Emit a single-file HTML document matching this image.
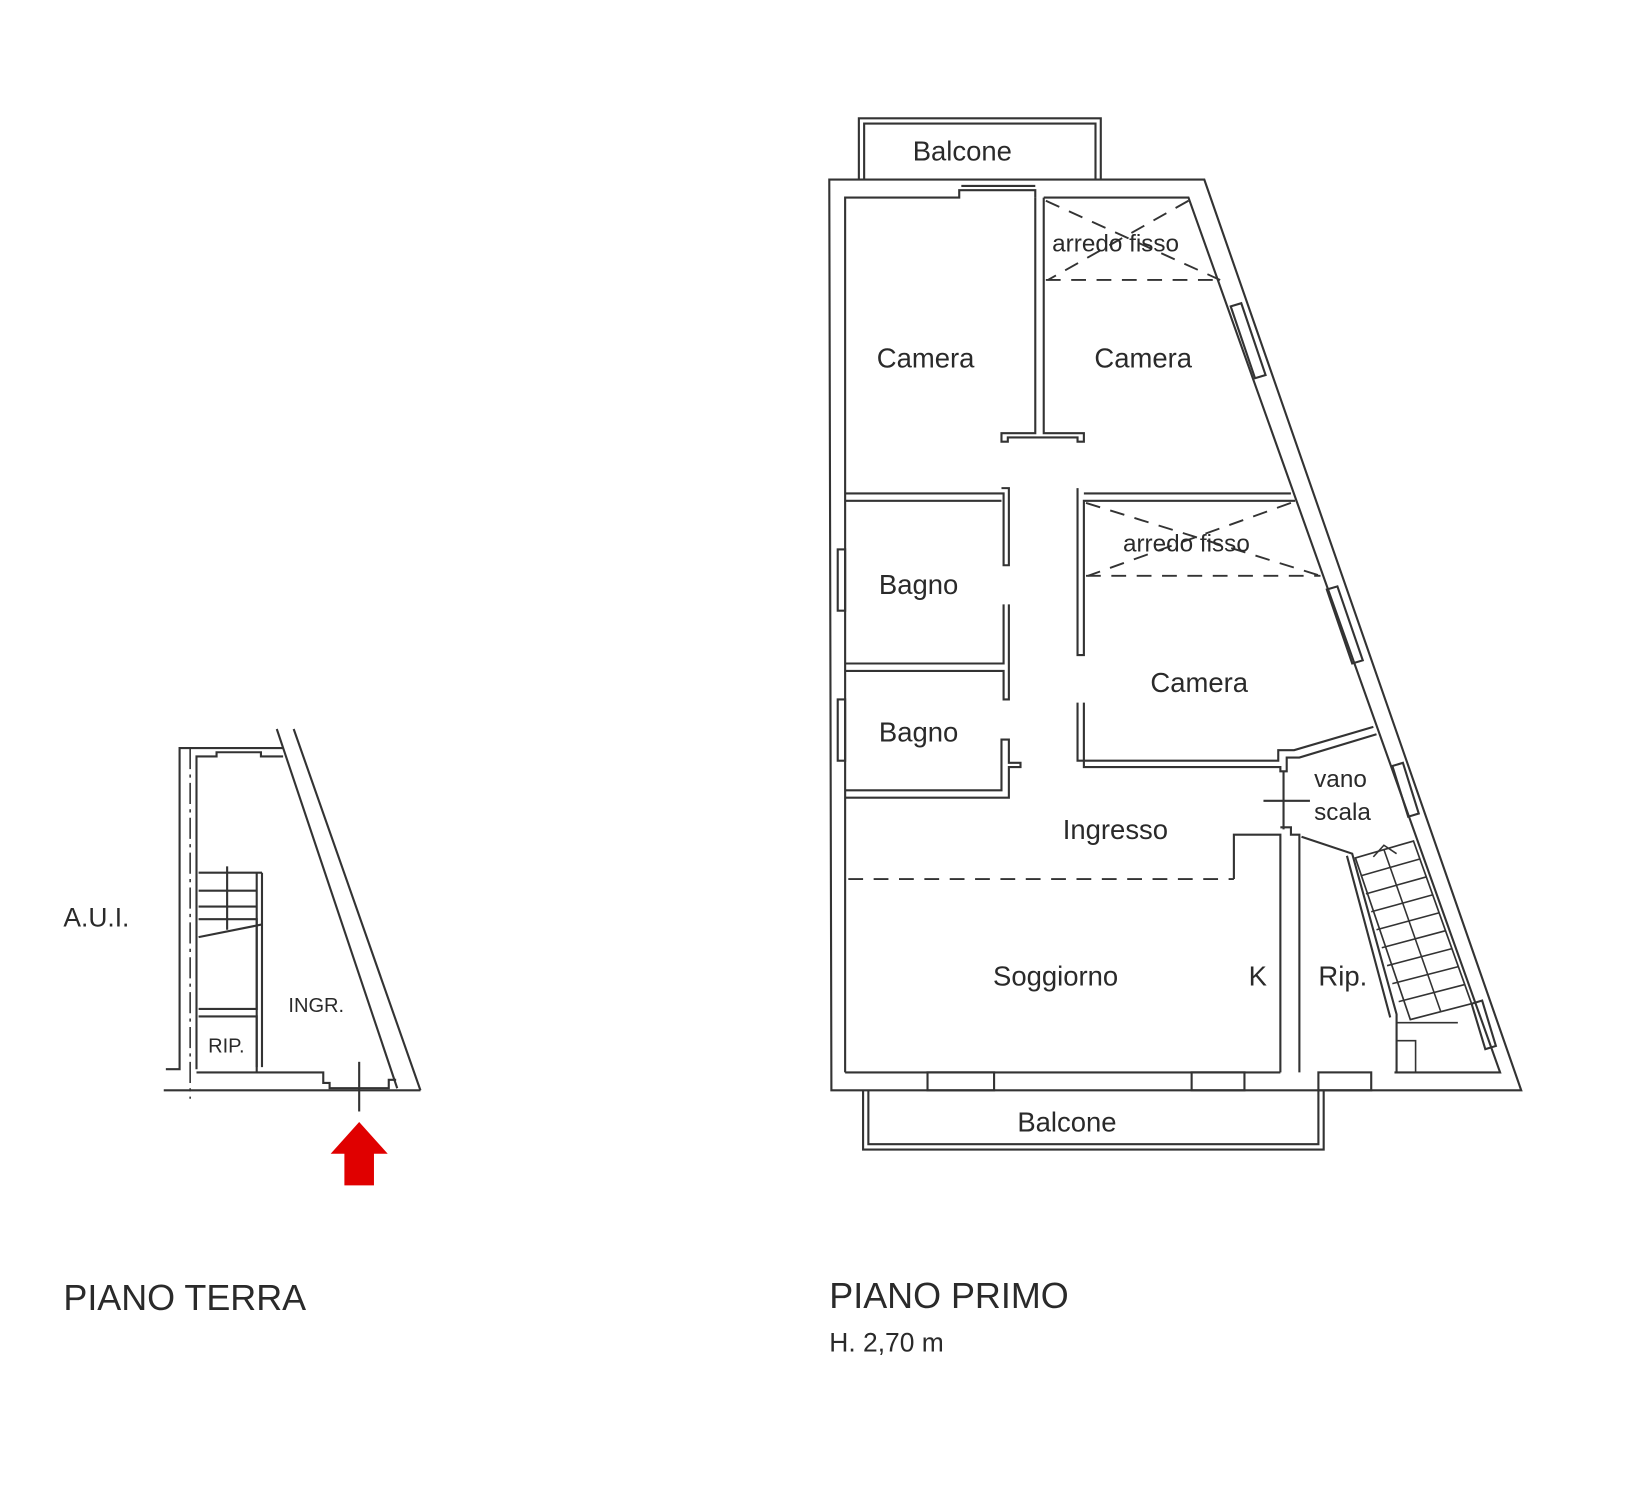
<!DOCTYPE html>
<html><head><meta charset="utf-8"><style>
html,body{margin:0;padding:0;background:#fff;}
svg{display:block;}
text{font-family:"Liberation Sans",sans-serif;fill:#2a2a2a;}
</style></head><body>
<svg width="1648" height="1495" viewBox="0 0 1560 1415" preserveAspectRatio="none" xmlns="http://www.w3.org/2000/svg">
<g fill="none" stroke="#333" stroke-width="2">
<polyline points="813,170 813,112 1042,112 1042,170"/>
<polyline points="818,170 818,117 1037,117 1037,170"/>
<polygon points="785,170 1140,170 1440,1032 787,1032"/>
<polyline points="800,1015 800,187 908,187 908,180 980,180 980,187"/>
<polyline points="988,187 1125,187 1420,1015 1320,1015"/>
<line x1="1212" y1="1015" x2="800" y2="1015"/>
<line x1="910" y1="176" x2="980" y2="176"/>
<polyline points="817,1032 817,1088 1253,1088 1253,1032"/>
<polyline points="822,1032 822,1083 1248,1083 1248,1032"/>
<rect x="878" y="1015" width="63" height="17"/>
<rect x="1128" y="1015" width="50" height="17"/>
<rect x="1248" y="1015" width="50" height="17"/>
<rect x="793" y="520" width="7" height="58"/>
<rect x="793" y="662" width="7" height="58"/>
<polygon points="1165,290 1175,287 1198,355 1188,358"/>
<polygon points="1256,558 1266,555 1290,625 1280,628"/>
<polygon points="1318,725 1328,722 1343,770 1333,773"/>
<polygon points="1393,950 1403,947 1416,990 1406,993"/>
<polyline points="980,187 980,410 948,410 948,418 954,418 954,414 1020,414 1020,418 1026,418 1026,410 988,410 988,187"/>
<polyline points="800,467 950,467 950,535 955,535 955,462 948,462"/>
<polyline points="800,474 948,474"/>
<polyline points="950,572 950,628 800,628"/>
<polyline points="955,572 955,662 950,662 950,635 800,635"/>
<polyline points="800,748 948,748 948,700 955,700 955,722 966,722 966,726 955,726 955,755 800,755"/>
<polyline points="1020,462 1020,620 1026,620 1026,474 1226,474"/>
<line x1="1026" y1="467" x2="1222" y2="467"/>
<polyline points="1020,665 1020,720 1210,720 1210,710 1225,710 1300,688"/>
<polyline points="1026,665 1026,713 1026,726 1212,726 1212,730 1218,730 1218,717 1230,717 1303,695"/>
<line x1="1215" y1="730" x2="1215" y2="785"/>
<line x1="1196" y1="758" x2="1240" y2="758"/>
<polyline points="1168,832 1168,790 1212,790 1212,1015"/>
<polyline points="1212,783 1222,783 1222,790 1230,790 1230,1015"/>
<polyline points="1232,792 1280,808 1322,960 1322,1015"/>
<polyline points="1275,810 1316,963"/>
<polygon points="1283,812 1338,796 1393,950 1335,965" stroke-width="1.6"/>
<g stroke-width="1.5">
<line x1="1288" y1="829" x2="1344" y2="813"/>
<line x1="1293" y1="846" x2="1350" y2="830"/>
<line x1="1298" y1="863" x2="1356" y2="847"/>
<line x1="1303" y1="880" x2="1362" y2="864"/>
<line x1="1308" y1="897" x2="1368" y2="881"/>
<line x1="1313" y1="914" x2="1374" y2="898"/>
<line x1="1318" y1="931" x2="1380" y2="915"/>
<line x1="1324" y1="948" x2="1386" y2="932"/>
<line x1="1310" y1="804" x2="1364" y2="958"/>
<polyline points="1300,811 1310,800 1322,808"/>
<polyline points="1322,985 1340,985 1340,1015"/>
<line x1="1322" y1="968" x2="1380" y2="968"/>
</g>
<g stroke-dasharray="14,10" stroke-width="1.8">
<line x1="990" y1="265" x2="1155" y2="265"/>
<line x1="990" y1="190" x2="1155" y2="265"/>
<line x1="1125" y1="190" x2="992" y2="265"/>
<line x1="1028" y1="545" x2="1250" y2="545"/>
<line x1="1028" y1="476" x2="1250" y2="545"/>
<line x1="1222" y1="476" x2="1030" y2="545"/>
<line x1="803" y1="832" x2="1168" y2="832"/>
</g>

<!-- PIANO TERRA -->
<line x1="278" y1="690" x2="398" y2="1032"/>
<line x1="262" y1="690" x2="376" y2="1030"/>
<polyline points="157,1012 170,1012 170,708 268,708"/>
<polyline points="186,1012 186,716 205,716 205,712 247,712 247,716 268,716"/>
<line x1="180" y1="708" x2="180" y2="1040" stroke-dasharray="20,5,3,5" stroke-width="1.5"/>
<line x1="155" y1="1032" x2="398" y2="1032"/>
<polyline points="186,1015 306,1015 306,1025 312,1025 312,1030 368,1030 368,1022 375,1022"/>
<line x1="340" y1="1005" x2="340" y2="1052"/>
<polyline points="188,870 243,870 243,955 188,955"/>
<line x1="243" y1="826" x2="243" y2="1010"/>
<line x1="248" y1="826" x2="248" y2="1010"/>
<line x1="188" y1="826" x2="248" y2="826"/>
<line x1="188" y1="843" x2="243" y2="843"/>
<line x1="188" y1="858" x2="243" y2="858"/>
<line x1="188" y1="887" x2="248" y2="875"/>
<line x1="215" y1="820" x2="215" y2="880"/>
<polyline points="188,962 243,962 243,1015"/>
</g>
<polygon points="340,1062 367,1092 354,1092 354,1122 326,1122 326,1092 313,1092" fill="#e00000"/>

<g font-size="26">
<text x="864" y="152">Balcone</text>
<text x="963" y="1071">Balcone</text>
<text x="830" y="348">Camera</text>
<text x="1036" y="348">Camera</text>
<text x="1089" y="655">Camera</text>
<text x="832" y="562">Bagno</text>
<text x="832" y="702">Bagno</text>
<text x="1006" y="794">Ingresso</text>
<text x="940" y="933">Soggiorno</text>
<text x="1182" y="933">K</text>
<text x="1248" y="933">Rip.</text>
<text x="1244" y="745" font-size="23">vano</text>
<text x="1244" y="776" font-size="23">scala</text>
<text x="996" y="238" font-size="23">arredo fisso</text>
<text x="1063" y="522" font-size="23">arredo fisso</text>
<text x="60" y="877" font-size="25">A.U.I.</text>
<text x="273" y="958" font-size="19">INGR.</text>
<text x="197" y="996" font-size="19">RIP.</text>
<text x="60" y="1240" font-size="34" fill="#444">PIANO TERRA</text>
<text x="785" y="1238" font-size="34" fill="#444">PIANO PRIMO</text>
<text x="785" y="1279" font-size="25" fill="#444">H. 2,70 m</text>
</g>
</svg>
</body></html>
